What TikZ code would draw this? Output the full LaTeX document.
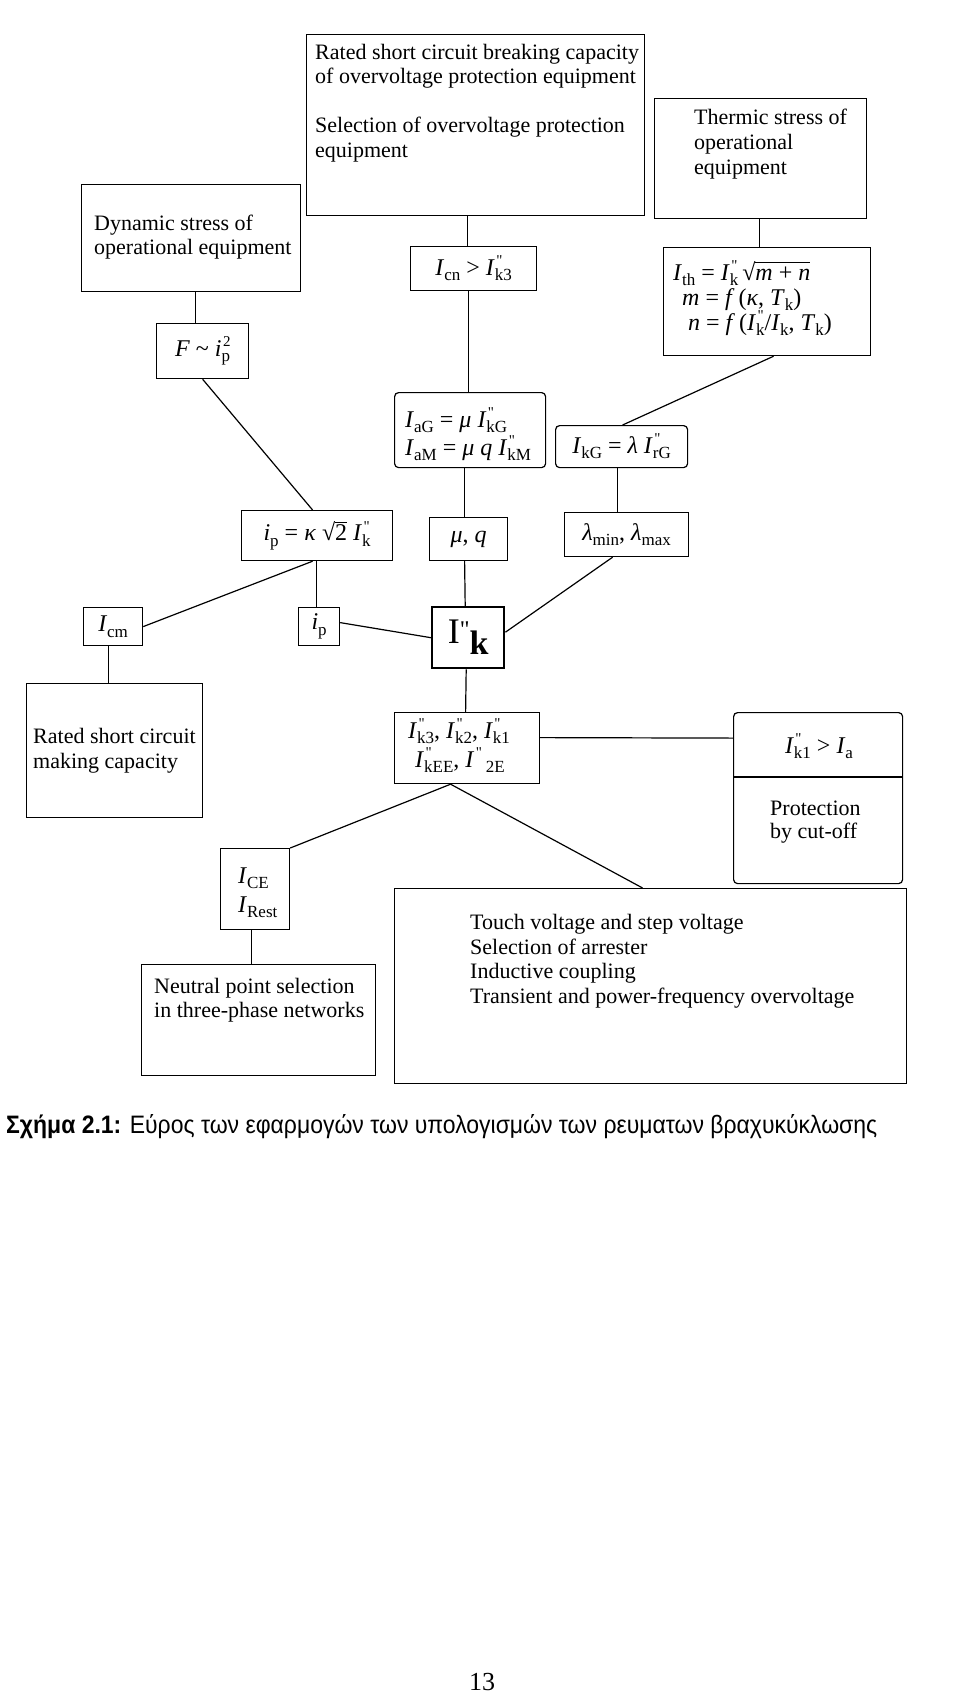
\documentclass[tikz,border=0pt]{standalone}
\usepackage{fontspec}
\usepackage{graphicx}
\setmainfont{Liberation Serif}
\newfontfamily\qfont{Liberation Serif}
\newfontfamily\capfont{Liberation Sans}
\newcommand\mydq{{\qfont\symbol{34}}}
\newcommand\mysb[1]{\raisebox{-5.5pt}{\fontsize{17}{17}\selectfont\upshape #1}}
\newcommand\mysp[1]{\raisebox{9.5pt}{\fontsize{15}{15}\selectfont\upshape #1}}
\newcommand\myss[2]{\rlap{\kern1.5pt\mysp{#1}}\mysb{#2}}
\newcommand\myI{\textit{I}}
\newcommand\myovl[1]{\setbox0=\hbox{#1}\rlap{\rule[17.5pt]{\wd0}{0.8pt}}\box0\relax}
\tikzset{
  bx/.style={draw, line width=1.2pt, inner sep=0pt, anchor=north west, font=\fontsize{24}{26}\selectfont},
  rbx/.style={bx, rounded corners=4pt},
  tx/.style={inner sep=0pt, anchor=base west, font=\fontsize{22}{24}\selectfont},
  fm/.style={tx, font=\fontsize{24}{26}\selectfont},
  ln/.style={line width=1.2pt},
}
\begin{document}
\begin{tikzpicture}[x=1pt,y=-1pt]
\useasboundingbox[fill=white] (0,0) rectangle (960,1695);

% boxes
\node[bx, minimum width=338pt, minimum height=181pt] (brk) at (306,34) {};
\node[bx, minimum width=212pt, minimum height=120pt] (therm) at (654,98) {};
\node[bx, minimum width=219pt, minimum height=107pt] (dyn) at (81,184) {};
\node[bx, minimum width=92pt, minimum height=55pt] (F) at (156,323) {\textit{F} \textasciitilde\ \textit{i}\myss{2}{p}};
\node[bx, minimum width=126pt, minimum height=44pt] (icn) at (410,246) {\myI\mysb{cn} > \myI\myss{\mydq}{k3}};
\node[bx, minimum width=207pt, minimum height=108pt] (ith) at (663,247) {};
\node[rbx, minimum width=151pt, minimum height=75pt] (iag) at (394,392) {};
\node[rbx, minimum width=132pt, minimum height=42pt] (ikg) at (555,425) {\myI\mysb{kG} = \textit{λ} \myI\myss{\mydq}{rG}};
\node[bx, minimum width=151pt, minimum height=50pt] (ipk) at (241,510) {\textit{i}\mysb{p} = \textit{κ} √\myovl{2} \myI\myss{\mydq}{k}};
\node[bx, minimum width=78pt, minimum height=43pt] (mq) at (429,517) {\textit{μ}, \textit{q}};
\node[bx, minimum width=124pt, minimum height=44pt] (lam) at (564,512) {\textit{λ}\mysb{min}, \textit{λ}\mysb{max}};
\node[bx, minimum width=59pt, minimum height=38pt] (icm) at (83,607) {\myI\mysb{cm}};
\node[bx, minimum width=41pt, minimum height=38pt] (ip) at (298,607) {\textit{i}\mysb{p}};
\node[bx, line width=2.4pt, minimum width=72pt, minimum height=61pt] (Ik) at (431,606)
  {\fontsize{36}{36}\selectfont I\raisebox{6pt}{\fontsize{24}{24}\selectfont\mydq}\raisebox{-11pt}{\fontsize{34}{34}\selectfont\bfseries k}};
\node[bx, minimum width=176pt, minimum height=134pt] (mak) at (26,683) {};
\node[bx, minimum width=145pt, minimum height=71pt] (k3) at (394,712) {};
\node[rbx, minimum width=169pt, minimum height=171pt] (ik1) at (733,712) {};
\node[bx, minimum width=69pt, minimum height=81pt] (ice) at (220,848) {};
\node[bx, minimum width=234pt, minimum height=111pt] (neu) at (141,964) {};
\node[bx, minimum width=512pt, minimum height=195pt] (touch) at (394,888) {};
\coordinate (dv) at (0,777);
\draw[ln] (ik1.west |- dv) -- (ik1.east |- dv);

% texts
\node[tx] (brk1) at (315,59) {Rated short circuit breaking capacity};
\node[tx] (brk2) at (315,83.5) {of overvoltage protection equipment};
\node[tx] (brk3) at (315,132.5) {Selection of overvoltage protection};
\node[tx] (brk4) at (315,157) {equipment};
\node[tx] (th1) at (694,124) {Thermic stress of};
\node[tx] (th2) at (694,149) {operational};
\node[tx] (th3) at (694,174) {equipment};
\node[tx] (dy1) at (94,230) {Dynamic stress of};
\node[tx] (dy2) at (94,254) {operational equipment};
\node[fm] (ith1) at (673,280) {\myI\mysb{th} = \myI\myss{\mydq}{k}\,√\myovl{\textit{m} + \textit{n}}};
\node[fm] (ith2) at (682,305) {\textit{m} = \textit{f}\,(\textit{κ}, \textit{T}\mysb{k})};
\node[fm] (ith3) at (688,330) {\textit{n} = \textit{f}\,(\myI\myss{\mydq}{k}/\myI\mysb{k}, \textit{T}\mysb{k})};
\node[fm] (iag1) at (405,427) {\myI\mysb{aG} = \textit{μ} \myI\myss{\mydq}{kG}};
\node[fm] (iag2) at (405,455) {\myI\mysb{aM} = \textit{μ} \textit{q} \myI\myss{\mydq}{kM}};
\node[fm] (k3a) at (408,738) {\myI\myss{\mydq}{k3}, \myI\myss{\mydq}{k2}, \myI\myss{\mydq}{k1}};
\node[fm] (k3b) at (415,767) {\myI\myss{\mydq}{kEE}, \myI\kern1.5pt\mysp{\mydq}\,\mysb{2E}};
\node[tx] (mk1) at (33,743) {Rated short circuit};
\node[tx] (mk2) at (33,768) {making capacity};
\node[fm] (ice1) at (238,883) {\myI\mysb{CE}};
\node[fm] (ice2) at (238,912) {\myI\mysb{Rest}};
\node[tx] (ne1) at (154,993) {Neutral point selection};
\node[tx] (ne2) at (154,1017) {in three-phase networks};
\node[tx] (to1) at (470,929) {Touch voltage and step voltage};
\node[tx] (to2) at (470,954) {Selection of arrester};
\node[tx] (to3) at (470,978) {Inductive coupling};
\node[tx] (to4) at (470,1003) {Transient and power-frequency overvoltage};
\node[fm, anchor=base] (ik1t) at (819,753) {\myI\myss{\mydq}{k1} > \myI\mysb{a}};
\node[tx] (pr1) at (770,815) {Protection};
\node[tx] (pr2) at (770,838) {by cut-off};

% connectors
\draw[ln] ([xshift=4.5pt]dyn.south) -- ([xshift=-7pt]F.north);
\draw[ln] ([xshift=-8pt]brk.south) -- ([xshift=-6pt]icn.north);
\draw[ln] ([xshift=-5pt]icn.south) -- ([xshift=-1.5pt]iag.north);
\draw[ln] ([xshift=-1pt]therm.south) -- ([xshift=-7.5pt]ith.north);
\draw[ln] ([xshift=6.5pt]ith.south) -- ([xshift=1pt]ikg.north);
\draw[ln] (F.south) -- ([xshift=-4.5pt]ipk.north);
\draw[ln] ([xshift=-5.5pt]iag.south) -- ([xshift=-4pt]mq.north);
\draw[ln] ([xshift=-4pt]ikg.south) -- ([xshift=-9pt]lam.north);
\draw[ln] ([xshift=-4.5pt]ipk.south) -- (icm.east);
\draw[ln] ([xshift=-0.5pt]ipk.south) -- ([xshift=-2.5pt]ip.north);
\draw[ln] ([yshift=4pt]ip.east) -- (Ik.west);
\draw[ln] ([xshift=-4pt]mq.south) -- ([xshift=-3pt]Ik.north);
\draw[ln] ([xshift=-14pt]lam.south) -- ([yshift=5.5pt]Ik.east);
\draw[ln] ([xshift=-4.5pt]icm.south) -- ([xshift=-6pt]mak.north);
\draw[ln] ([xshift=-2pt]Ik.south) -- ([xshift=-1.5pt]k3.north);
\draw[ln] ([yshift=10.5pt]k3.east) -- ([yshift=60pt]ik1.west);
\draw[ln] ([xshift=-16.5pt]k3.south) -- (ice.north east);
\draw[ln] ([xshift=-16.5pt]k3.south) -- ([xshift=-8pt]touch.north);
\draw[ln] ([xshift=-3.5pt]ice.south) -- ([xshift=-7pt]neu.north);

% caption and page number
\node[inner sep=0pt, anchor=base west] (cap) at (6,1133)
  {\resizebox{871pt}{19pt}{\capfont\textbf{Σχήμα 2.1:} Εύρος των εφαρμογών των υπολογισμών των ρευματων βραχυκύκλωσης}};
\node[inner sep=0pt, anchor=base, font=\fontsize{26}{26}\selectfont] (pg) at (482,1690) {13};
\end{tikzpicture}
\end{document}
